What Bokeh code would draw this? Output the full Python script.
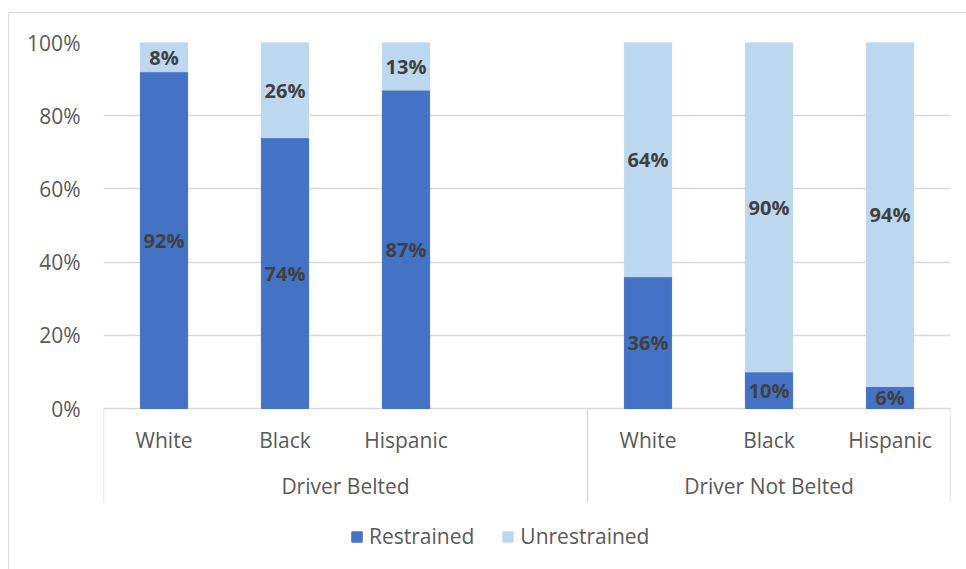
from bokeh.plotting import figure
from bokeh.models import (ColumnDataSource, Range1d, FixedTicker, PrintfTickFormatter,
                          Legend, LegendItem)
from bokeh.core.properties import value
from bokeh.embed import file_html
from bokeh.resources import INLINE

groups = ["Driver Belted", "Driver Not Belted"]
races = ["White", "Black", "Hispanic"]
restrained = [92, 74, 87, 36, 10, 6]
unrestrained = [8, 26, 13, 64, 90, 94]
y_ticks = [0, 20, 40, 60, 80, 100]

FONT = "Open Sans"
C_RES = "#4472C4"
C_UNR = "#BDD7EE"
GRID = "#D9D9D9"
TXT = "#595959"
LBL = "#404040"

# slot positions: each group has 3 bars, one empty slot between groups
slot = len(races) + 1
xs, cat_labels = [], []
for gi, g in enumerate(groups):
    for ri, r in enumerate(races):
        xs.append(gi * slot + ri + 0.5)
        cat_labels.append(r)
seps = [gi * slot for gi in range(len(groups))] + [len(groups) * slot - 1]
group_centers = [(seps[i] + seps[i + 1]) / 2 for i in range(len(groups))]

FIG_H = 557
TOP = 29
PX_PER_PCT = 3.66
sep_bottom = -25.68
y_bottom = 100 - (FIG_H - TOP) / PX_PER_PCT
src = ColumnDataSource(dict(
    x=xs, res=restrained, unr=unrestrained,
    top=[a + b for a, b in zip(restrained, unrestrained)],
    res_mid=[a / 2 for a in restrained],
    unr_mid=[a + b / 2 for a, b in zip(restrained, unrestrained)],
    res_lbl=[f"{v}%" for v in restrained],
    unr_lbl=[f"{v}%" for v in unrestrained],
    cat=cat_labels,
    cat_y=[-8.74] * len(xs),
))

p = figure(width=958, height=FIG_H, output_backend="svg", toolbar_location=None,
           x_range=Range1d(0, len(groups) * slot - 1), y_range=Range1d(y_bottom, 100),
           min_border_left=94, min_border_right=17, min_border_top=TOP, min_border_bottom=0)
p.margin = (12, 0, 0, 8)
p.styles = {"border-left": "1px solid #D9D9D9", "border-top": "1px solid #D9D9D9"}

p.outline_line_color = None
p.xaxis.visible = False
p.xgrid.visible = False
p.ygrid.ticker = FixedTicker(ticks=y_ticks)
p.ygrid.grid_line_color = GRID
p.ygrid.grid_line_width = 1.5
p.yaxis.ticker = FixedTicker(ticks=y_ticks)
p.yaxis.formatter = PrintfTickFormatter(format="%d%%")
p.yaxis.axis_line_color = None
p.yaxis.major_tick_line_color = None
p.yaxis.minor_tick_line_color = None
p.yaxis.major_label_text_font = FONT
p.yaxis.major_label_text_font_size = "21px"
p.yaxis.major_label_text_color = TXT
p.yaxis.major_label_standoff = 17

r1 = p.vbar(x="x", bottom=0, top="res", width=0.39, color=C_RES, source=src)
r2 = p.vbar(x="x", bottom="res", top="top", width=0.39, color=C_UNR, source=src)

for ycol, tcol in (("res_mid", "res_lbl"), ("unr_mid", "unr_lbl")):
    p.text(x="x", y=ycol, text=tcol, source=src, text_font=value(FONT),
           text_font_style="bold", text_font_size="20px", text_color=LBL,
           text_align="center", text_baseline="middle")

# category labels
p.text(x="x", y="cat_y", text="cat", source=src, text_font=value(FONT),
       text_font_size="21px", text_color=TXT, text_align="center", text_baseline="middle")
p.text(x=group_centers, y=[-21.3] * len(groups), text=groups, text_font=value(FONT),
       text_font_size="21px", text_color=TXT, text_align="center", text_baseline="middle")
p.segment(x0=seps, x1=seps, y0=[0] * len(seps), y1=[sep_bottom] * len(seps),
          line_color=GRID, line_width=1.5)

legend = Legend(items=[LegendItem(label="Restrained", renderers=[r1]),
                       LegendItem(label="Unrestrained", renderers=[r2])],
                orientation="horizontal", location=(247, 20),
                glyph_width=13, glyph_height=13, label_standoff=6, spacing=27,
                label_text_font=FONT, label_text_font_size="21px",
                label_text_color=TXT, border_line_color=None,
                background_fill_alpha=0, padding=0, margin=0)
p.add_layout(legend)

open("out.html", "w").write(file_html(p, INLINE))
